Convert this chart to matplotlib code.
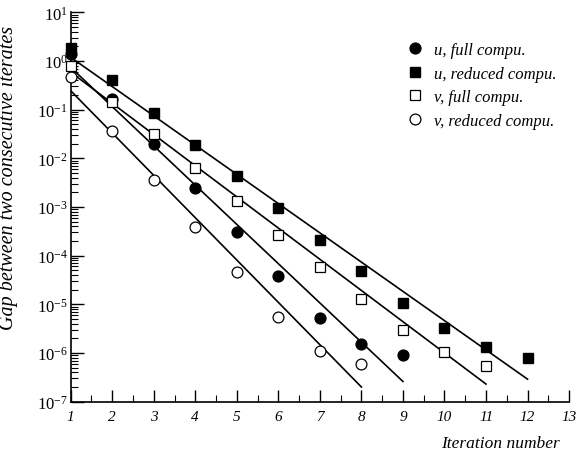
import numpy as np
import matplotlib
matplotlib.use("Agg")
import matplotlib.pyplot as plt
from matplotlib.ticker import FixedLocator, MultipleLocator, NullFormatter, LogFormatterMathtext

plt.rcParams['font.family'] = ['Liberation Serif', 'DejaVu Serif']
plt.rcParams['mathtext.fontset'] = 'stix'

# data
iters_u_full = [1, 2, 3, 4, 5, 6, 7, 8, 9]
gap_u_full = [1.39, 0.165, 0.020, 2.4e-3, 3.0e-4, 3.8e-5, 5.3e-6, 1.5e-6, 9.0e-7]

iters_u_red = [1, 2, 3, 4, 5, 6, 7, 8, 9, 10, 11, 12]
gap_u_red = [1.82, 0.40, 0.085, 0.019, 4.4e-3, 9.6e-4, 2.1e-4, 4.9e-5, 1.07e-5, 3.3e-6, 1.3e-6, 8.0e-7]

iters_v_full = [1, 2, 3, 4, 5, 6, 7, 8, 9, 10, 11]
gap_v_full = [0.78, 0.146, 0.032, 6.3e-3, 1.3e-3, 2.7e-4, 5.8e-5, 1.3e-5, 3.0e-6, 1.04e-6, 5.5e-7]

iters_v_red = [1, 2, 3, 4, 5, 6, 7, 8]
gap_v_red = [0.46, 0.037, 3.6e-3, 3.9e-4, 4.7e-5, 5.5e-6, 1.12e-6, 6.0e-7]

# straight fit lines (end points)
fit_u_full_x = [1, 9]
fit_u_full_y = [0.74, 2.6e-7]
fit_u_red_x = [1, 12]
fit_u_red_y = [1.19, 2.9e-7]
fit_v_full_x = [1, 11]
fit_v_full_y = [0.59, 2.3e-7]
fit_v_red_x = [1, 8]
fit_v_red_y = [0.245, 2.0e-7]

y_decades = [1e-7, 1e-6, 1e-5, 1e-4, 1e-3, 1e-2, 1e-1, 1e0, 1e1]

fig = plt.figure(figsize=(5.76, 4.6), dpi=100)
ax = fig.add_axes([0.1227, 0.1246, 0.8653, 0.8465])

# fit lines
for fx, fy in [(fit_u_full_x, fit_u_full_y), (fit_u_red_x, fit_u_red_y),
               (fit_v_full_x, fit_v_full_y), (fit_v_red_x, fit_v_red_y)]:
    ax.plot(fx, fy, color='black', linewidth=1.2, zorder=2)

ms = 7.8
ax.plot(iters_u_full, gap_u_full, 'o', color='black', markersize=ms, linestyle='none',
        label='u, full compu.', zorder=3, clip_on=False)
ax.plot(iters_u_red, gap_u_red, 's', color='black', markersize=ms - 0.6, linestyle='none',
        label='u, reduced compu.', zorder=3, clip_on=False)
ax.plot(iters_v_full, gap_v_full, 's', markerfacecolor='white', markeredgecolor='black',
        markeredgewidth=0.9, markersize=ms - 0.6, linestyle='none', label='v, full compu.',
        zorder=3, clip_on=False)
ax.plot(iters_v_red, gap_v_red, 'o', markerfacecolor='white', markeredgecolor='black',
        markeredgewidth=0.9, markersize=ms, linestyle='none', label='v, reduced compu.',
        zorder=3, clip_on=False)

ax.set_yscale('log')
ax.set_xlim(1, 13)
ax.set_ylim(1e-7, 1e1)

ax.spines['top'].set_visible(False)
ax.spines['right'].set_visible(False)
ax.spines['left'].set_linewidth(1.2)
ax.spines['bottom'].set_linewidth(1.2)

ax.xaxis.set_major_locator(MultipleLocator(1))
ax.xaxis.set_minor_locator(MultipleLocator(0.5))
ax.yaxis.set_major_locator(FixedLocator(y_decades))
ax.yaxis.set_major_formatter(LogFormatterMathtext())
minor_y = [m * d for d in y_decades[:-1] for m in range(2, 10)]
ax.yaxis.set_minor_locator(FixedLocator(minor_y))
ax.yaxis.set_minor_formatter(NullFormatter())

ax.tick_params(axis='both', which='major', direction='in', length=9, width=1)
ax.tick_params(axis='both', which='minor', direction='in', length=5, width=0.8)
ax.tick_params(axis='x', pad=6, labelsize=11)
ax.tick_params(axis='y', pad=2, labelsize=12)
for lbl in ax.get_xticklabels():
    lbl.set_fontstyle('italic')

ax.set_xlabel('Iteration number', fontsize=12.5, style='italic', ha='right')
ax.xaxis.set_label_coords(0.982, -0.085)
ax.set_ylabel('Gap between two consecutive iterates', fontsize=14.5, style='italic')
ax.yaxis.set_label_coords(-0.106, 0.577)

ax.legend(loc='upper left', bbox_to_anchor=(0.655, 0.945), frameon=False,
          prop={'style': 'italic', 'size': 12}, handletextpad=0.5, labelspacing=0.45,
          handlelength=1.2, borderpad=0)

fig.savefig('out.png', dpi=100)
